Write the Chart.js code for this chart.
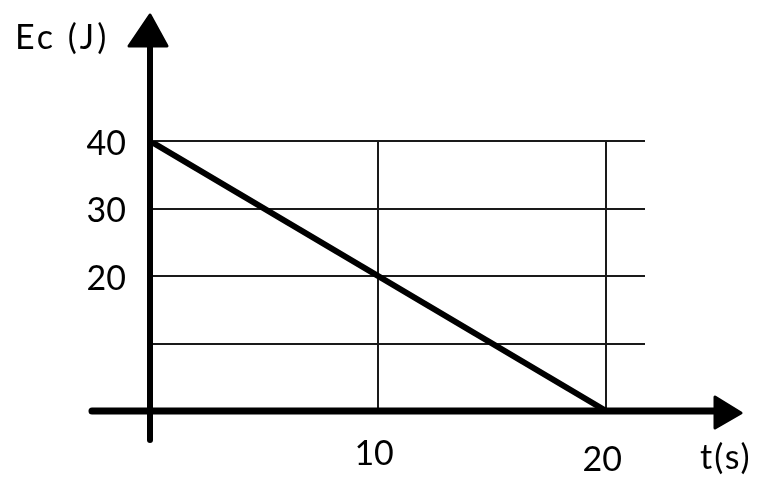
<!DOCTYPE html>
<html lang="fr">
<head>
    <meta charset="UTF-8">
    <title>Ec (J) en fonction de t(s)</title>
    <script src="https://cdn.jsdelivr.net/npm/chart.js"></script>
    <style>
        body {
            margin: 0;
            padding: 0;
            background-color: #ffffff;
        }
        .chart-container {
            width: 780px;
            height: 496px;
            position: relative;
        }
    </style>
</head>
<body>
    <div class="chart-container">
        <canvas id="ecChart"></canvas>
    </div>

    <script>
        // data
        const times = [0, 20];
        const energy = [40, 0];
        const xTicks = [0, 10, 20];
        const yTicks = [0, 10, 20, 30, 40];
        const xTickLabels = ['10', '20'];
        const yTickLabels = ['20', '30', '40'];
        const xTitle = 't(s)';
        const yTitle = 'Ec (J)';

        const FONT = 'Lato, "DejaVu Sans", sans-serif';
        const INK = '#000000';

        // thick axes with arrow heads, labels drawn next to them
        const axesPlugin = {
            id: 'arrowAxes',
            afterDatasetsDraw(chart) {
                const ctx = chart.ctx;
                const xs = chart.scales.x;
                const ys = chart.scales.y;
                const x0 = xs.getPixelForValue(0);
                const y0 = ys.getPixelForValue(0);

                ctx.save();
                ctx.strokeStyle = INK;
                ctx.fillStyle = INK;
                ctx.lineCap = 'round';

                // y axis
                ctx.lineWidth = 6;
                ctx.beginPath();
                ctx.moveTo(x0, y0 + 29);
                ctx.lineTo(x0, 40);
                ctx.stroke();
                ctx.lineJoin = 'round';
                ctx.lineWidth = 3;
                ctx.beginPath();
                ctx.moveTo(x0, 15);
                ctx.lineTo(x0 + 17, 46);
                ctx.lineTo(x0 - 21, 46);
                ctx.closePath();
                ctx.fill();
                ctx.stroke();

                // x axis
                ctx.lineWidth = 7;
                ctx.beginPath();
                ctx.moveTo(92, y0);
                ctx.lineTo(718, y0);
                ctx.stroke();
                ctx.lineWidth = 3;
                ctx.beginPath();
                ctx.moveTo(741, y0 + 2);
                ctx.lineTo(715, y0 - 14);
                ctx.lineTo(715, y0 + 17);
                ctx.closePath();
                ctx.fill();
                ctx.stroke();

                // tick labels
                ctx.font = '34px ' + FONT;
                ctx.textBaseline = 'middle';
                ctx.textAlign = 'right';
                yTickLabels.forEach(t => {
                    ctx.fillText(t, 126, ys.getPixelForValue(Number(t)) + 3);
                });
                ctx.textAlign = 'center';
                xTickLabels.forEach((t, i) => {
                    ctx.fillText(t, xs.getPixelForValue(Number(t)) - 4, y0 + 43 + i * 6);
                });

                // axis titles
                ctx.textAlign = 'left';
                ctx.letterSpacing = '2px';
                ctx.fillText(xTitle, 700, y0 + 47);
                ctx.letterSpacing = '3px';
                ctx.fillText(yTitle, 15, 38);
                ctx.restore();
            }
        };

        new Chart(document.getElementById('ecChart'), {
            type: 'scatter',
            data: {
                datasets: [{
                    label: 'Ec',
                    data: times.map((t, i) => ({ x: t, y: energy[i] })),
                    showLine: true,
                    borderColor: INK,
                    borderWidth: 6,
                    pointRadius: 0,
                    fill: false
                }]
            },
            options: {
                responsive: true,
                maintainAspectRatio: false,
                animation: false,
                layout: {
                    padding: { left: 150, right: 135, top: 141, bottom: 85 }
                },
                plugins: {
                    legend: { display: false },
                    tooltip: { enabled: false }
                },
                scales: {
                    x: {
                        type: 'linear',
                        min: 0,
                        max: 21.7,
                        afterBuildTicks: scale => {
                            scale.ticks = xTicks.map(v => ({ value: v }));
                        },
                        ticks: { display: false },
                        border: { display: false },
                        grid: { color: '#1a1a1a', lineWidth: 2, drawTicks: false }
                    },
                    y: {
                        type: 'linear',
                        min: 0,
                        max: 40,
                        afterBuildTicks: scale => {
                            scale.ticks = yTicks.map(v => ({ value: v }));
                        },
                        ticks: { display: false },
                        border: { display: false },
                        grid: { color: '#1a1a1a', lineWidth: 2, drawTicks: false }
                    }
                }
            },
            plugins: [axesPlugin]
        });
    </script>
</body>
</html>
